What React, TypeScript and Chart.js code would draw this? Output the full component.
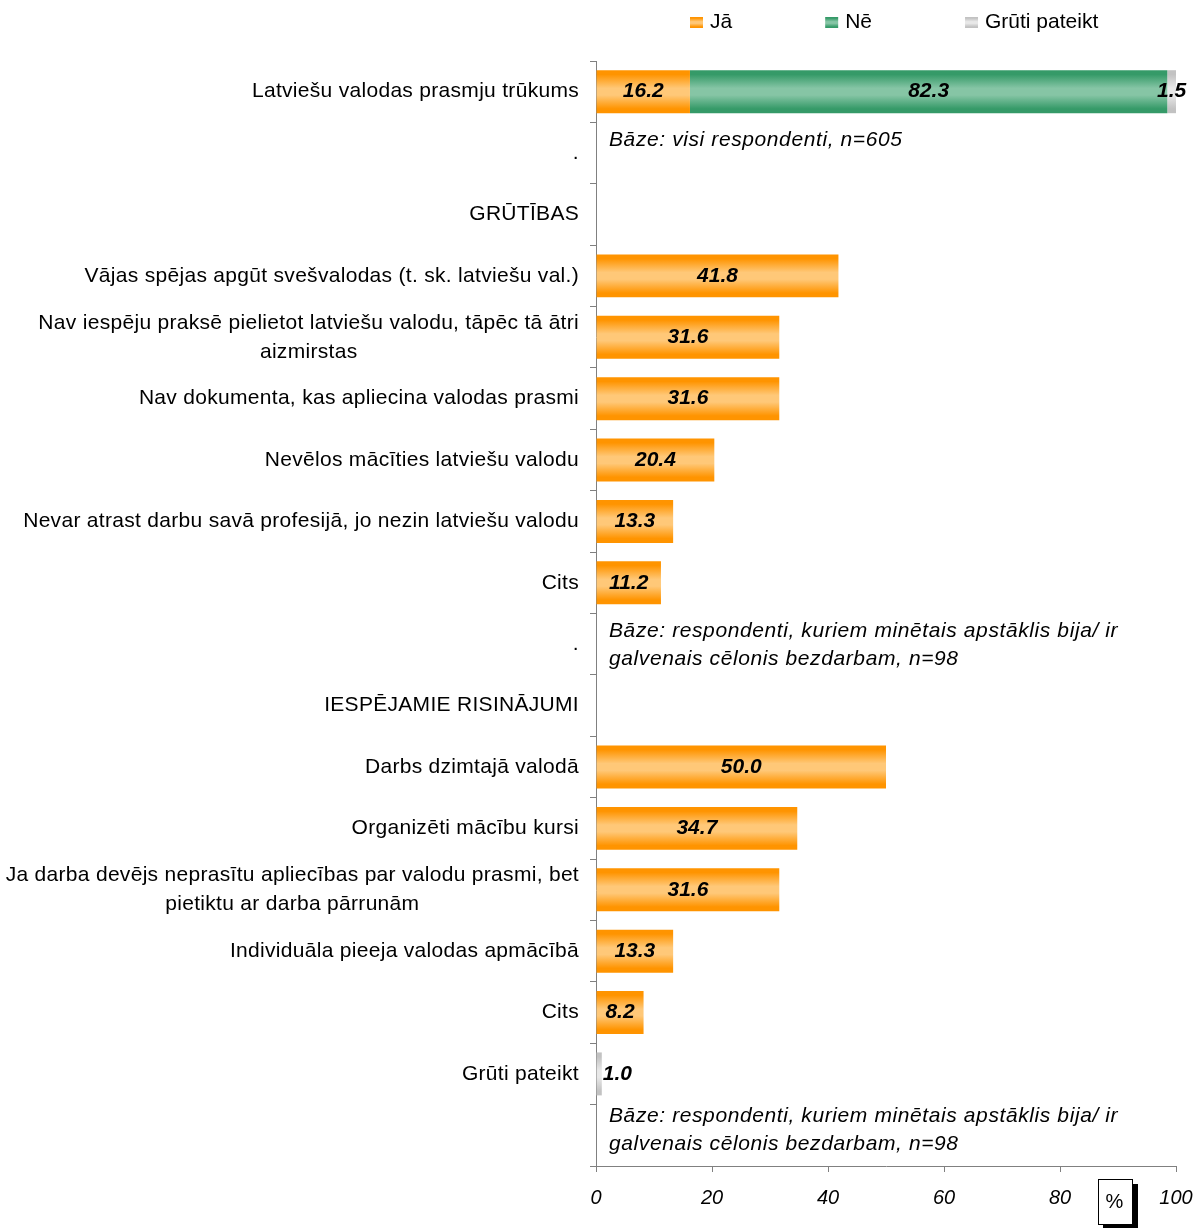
import React, { useEffect, useRef } from "react";
import { Chart, registerables } from "chart.js";
Chart.register(...registerables);

const FONT = '"Liberation Sans", Arial, sans-serif';

const categories: string[][] = [
  ["Latviešu valodas prasmju trūkums"],
  ["."],
  ["GRŪTĪBAS"],
  ["Vājas spējas apgūt svešvalodas (t. sk. latviešu val.)"],
  ["Nav iespēju praksē pielietot latviešu valodu, tāpēc tā ātri", "aizmirstas"],
  ["Nav dokumenta, kas apliecina valodas prasmi"],
  ["Nevēlos mācīties latviešu valodu"],
  ["Nevar atrast darbu savā profesijā, jo nezin latviešu valodu"],
  ["Cits"],
  ["."],
  ["IESPĒJAMIE RISINĀJUMI"],
  ["Darbs dzimtajā valodā"],
  ["Organizēti mācību kursi"],
  ["Ja darba devējs neprasītu apliecības par valodu prasmi, bet", "pietiktu ar darba pārrunām"],
  ["Individuāla pieeja valodas apmācībā"],
  ["Cits"],
  ["Grūti pateikt"],
  [""],
];

const seriesNames = ["Jā", "Nē", "Grūti pateikt"];

const jaValues: (number | null)[] = [16.2, null, null, 41.8, 31.6, 31.6, 20.4, 13.3, 11.2, null, null, 50.0, 34.7, 31.6, 13.3, 8.2, null, null];
const neValues: (number | null)[] = [82.3, null, null, null, null, null, null, null, null, null, null, null, null, null, null, null, null, null];
const gpValues: (number | null)[] = [1.5, null, null, null, null, null, null, null, null, null, null, null, null, null, null, null, 1.0, null];

const xTickValues = [0, 20, 40, 60, 80, 100];

const noteRows = [1, 9, 17];
const noteTexts: string[][] = [
  ["Bāze: visi respondenti, n=605"],
  ["Bāze: respondenti, kuriem minētais apstāklis bija/ ir", "galvenais cēlonis bezdarbam, n=98"],
  ["Bāze: respondenti, kuriem minētais apstāklis bija/ ir", "galvenais cēlonis bezdarbam, n=98"],
];
const noteDy = [18, 18, 12];

const palettes = [
  { edge: "#FF9400", mid: "#FFC878" },
  { edge: "#359A68", mid: "#86C5A5" },
  { edge: "#C2C2C2", mid: "#E8E8E8" },
];

const BAR_PCT = 0.7;

function makeGradient(ctx: CanvasRenderingContext2D, y0: number, y1: number, p: { edge: string; mid: string }) {
  const g = ctx.createLinearGradient(0, y0, 0, y1);
  g.addColorStop(0, p.edge);
  g.addColorStop(0.1, p.edge);
  g.addColorStop(0.42, p.mid);
  g.addColorStop(0.58, p.mid);
  g.addColorStop(0.9, p.edge);
  g.addColorStop(1, p.edge);
  return g;
}

const valueLabels = {
  id: "valueLabels",
  afterDatasetsDraw(chart: any) {
    const ctx = chart.ctx;
    const x0 = chart.scales.x.getPixelForValue(0);
    ctx.save();
    ctx.font = `italic bold 21px ${FONT}`;
    ctx.fillStyle = "#000";
    ctx.textBaseline = "middle";
    chart.data.datasets.forEach((ds: any, di: number) => {
      const meta = chart.getDatasetMeta(di);
      meta.data.forEach((bar: any, i: number) => {
        const v = ds.data[i];
        if (v == null) return;
        const { x, y, base } = bar.getProps(["x", "y", "base"], true);
        const w = Math.abs(x - base);
        const txt = v.toFixed(1);
        if (Math.abs(base - x0) < 1 && w < 20) {
          ctx.textAlign = "left";
          ctx.fillText(txt, x + 1, y);
        } else {
          ctx.textAlign = "center";
          ctx.fillText(txt, (x + base) / 2, y);
        }
      });
    });
    ctx.restore();
  },
};

const decorations = {
  id: "decorations",
  afterDraw(chart: any) {
    const ctx = chart.ctx;
    const { chartArea, scales } = chart;
    const rowH = (chartArea.bottom - chartArea.top) / categories.length;
    ctx.save();
    // category labels
    ctx.font = `21px ${FONT}`;
    (ctx as any).letterSpacing = "0.3px";
    ctx.fillStyle = "#000";
    ctx.textBaseline = "middle";
    ctx.textAlign = "center";
    const right = chartArea.left - 17;
    const lh = 29;
    categories.forEach((lines, i) => {
      const yc = scales.y.getPixelForValue(i);
      let maxW = 0;
      lines.forEach((l) => (maxW = Math.max(maxW, ctx.measureText(l).width)));
      const cx = right - maxW / 2;
      lines.forEach((l, k) => {
        const y = yc + (k - (lines.length - 1) / 2) * lh;
        ctx.fillText(l, cx, y);
      });
    });
    // notes
    ctx.font = `italic 21px ${FONT}`;
    (ctx as any).letterSpacing = "0.6px";
    ctx.textAlign = "left";
    noteRows.forEach((r, n) => {
      const top = chartArea.top + rowH * r;
      noteTexts[n].forEach((l, k) => {
        ctx.fillText(l, chartArea.left + 13, top + noteDy[n] + k * 28);
      });
    });
    (ctx as any).letterSpacing = "0px";
    // legend
    let lx = chartArea.left + 94;
    const ly = 22;
    ctx.font = `21px ${FONT}`;
    seriesNames.forEach((name, i) => {
      ctx.fillStyle = makeGradient(ctx, ly - 5, ly + 6, palettes[i]);
      ctx.fillRect(lx, ly - 5, 13, 11);
      ctx.fillStyle = "#000";
      ctx.textAlign = "left";
      ctx.fillText(name, lx + 20, ly);
      lx += 20 + ctx.measureText(name).width + 93;
    });
    // % box
    const bx = chartArea.right - 78;
    const by = chartArea.bottom + 13;
    const bw = 35;
    const bh = 46;
    ctx.fillStyle = "#000";
    ctx.fillRect(bx + 5, by + 5, bw, bh);
    ctx.fillStyle = "#fff";
    ctx.fillRect(bx, by, bw, bh);
    ctx.strokeStyle = "#000";
    ctx.lineWidth = 1;
    ctx.strokeRect(bx + 0.5, by + 0.5, bw - 1, bh - 1);
    ctx.fillStyle = "#000";
    ctx.textAlign = "center";
    ctx.font = `20px ${FONT}`;
    ctx.fillText("%", bx + bw / 2 - 1, by + bh / 2);
    ctx.restore();
  },
};

export default function App() {
  const ref = useRef<HTMLCanvasElement | null>(null);
  useEffect(() => {
    document.body.style.margin = "0";
    const canvas = ref.current!;
    const bg = (di: number) => (c: any) => {
      const chart = c.chart;
      const p = palettes[di];
      if (!chart.chartArea || c.type !== "data") return p.edge;
      const rowH = (chart.chartArea.bottom - chart.chartArea.top) / categories.length;
      const y = chart.scales.y.getPixelForValue(c.dataIndex);
      const h = rowH * BAR_PCT;
      return makeGradient(chart.ctx, y - h / 2, y + h / 2, p);
    };
    const chart = new Chart(canvas, {
      type: "bar",
      data: {
        labels: categories,
        datasets: [
          { label: seriesNames[0], data: jaValues, backgroundColor: bg(0) },
          { label: seriesNames[1], data: neValues, backgroundColor: bg(1) },
          { label: seriesNames[2], data: gpValues, backgroundColor: bg(2) },
        ],
      },
      options: {
        indexAxis: "y",
        responsive: false,
        animation: false,
        devicePixelRatio: 1,
        events: [],
        layout: { padding: { top: 61, right: 21, left: 0, bottom: 0 } },
        datasets: { bar: { barPercentage: BAR_PCT, categoryPercentage: 1 } },
        plugins: { legend: { display: false }, tooltip: { enabled: false } },
        scales: {
          x: {
            stacked: true,
            min: 0,
            max: 100,
            afterBuildTicks: (s: any) => {
              s.ticks = xTickValues.map((v) => ({ value: v }));
            },
            afterFit: (s: any) => {
              s.height = 62;
              s.paddingLeft = 0;
              s.paddingRight = 0;
            },
            grid: { display: true, drawOnChartArea: false, drawTicks: true, tickLength: 6, color: "#808080" },
            border: { display: true, color: "#808080", width: 1 },
            ticks: { color: "#000", font: { family: FONT, size: 20, style: "italic" }, padding: 14, maxRotation: 0 },
          },
          y: {
            stacked: true,
            afterFit: (s: any) => {
              s.width = 596;
              s.paddingTop = 0;
              s.paddingBottom = 0;
            },
            grid: { display: true, drawOnChartArea: false, drawTicks: true, tickLength: 6, color: "#808080", offset: true },
            border: { display: true, color: "#808080", width: 1 },
            ticks: { display: false },
          },
        },
      },
      plugins: [valueLabels, decorations],
    });
    return () => chart.destroy();
  }, []);
  return <canvas ref={ref} width={1197} height={1228} style={{ display: "block" }} />;
}
